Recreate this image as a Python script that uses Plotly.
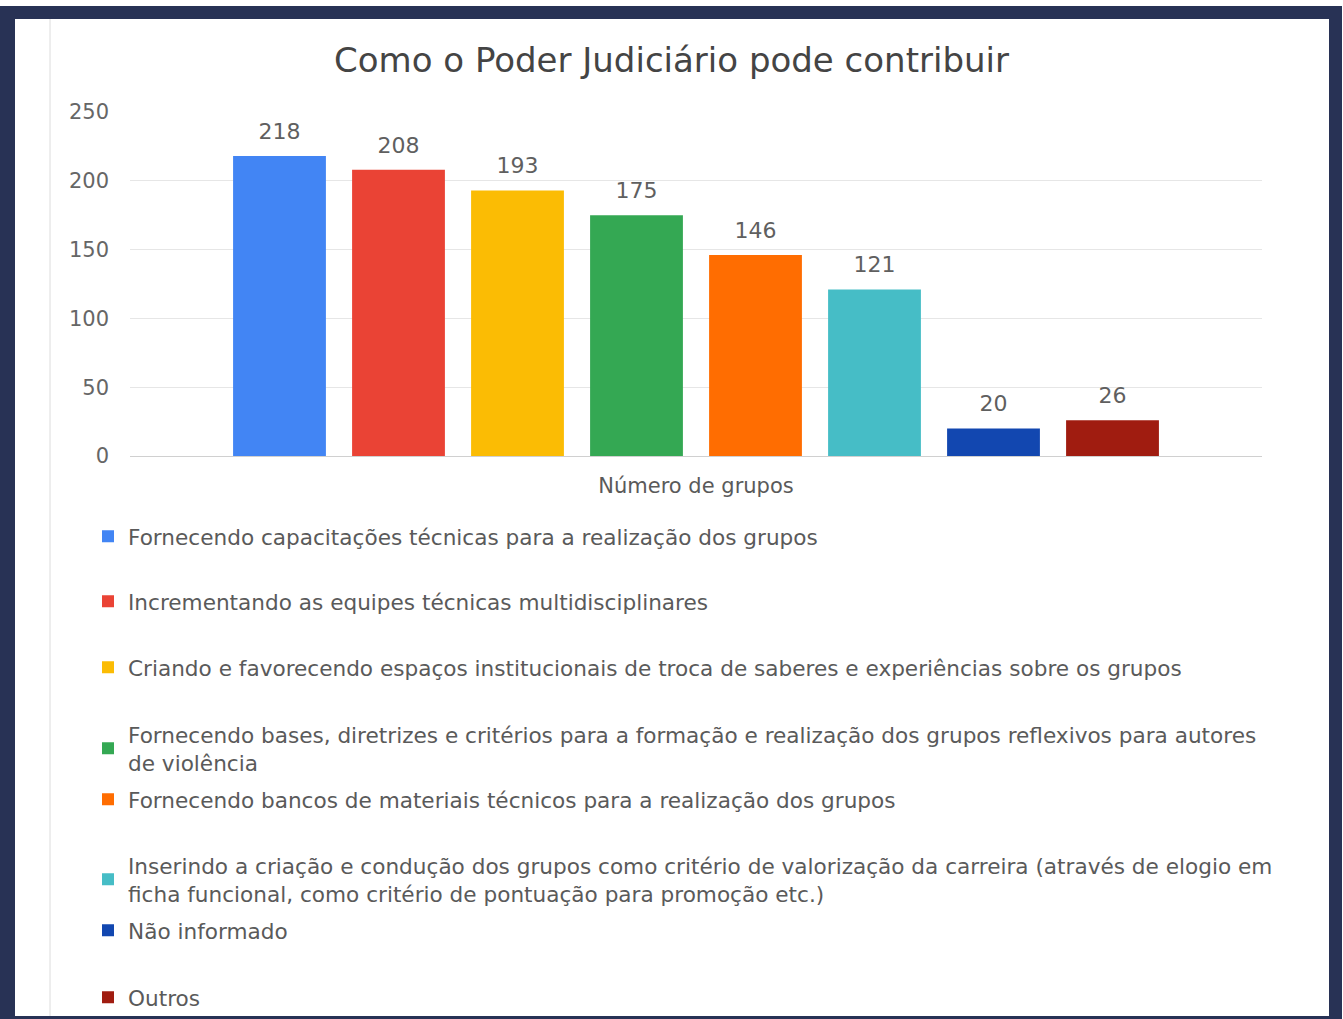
import plotly.graph_objects as go

# ---- data ----
category = ["Número de grupos"]
series_names = [
    "Fornecendo capacitações técnicas para a realização dos grupos",
    "Incrementando as equipes técnicas multidisciplinares",
    "Criando e favorecendo espaços institucionais de troca de saberes e experiências sobre os grupos",
    "Fornecendo bases, diretrizes e critérios para a formação e realização dos grupos reflexivos para autores<br>de violência",
    "Fornecendo bancos de materiais técnicos para a realização dos grupos",
    "Inserindo a criação e condução dos grupos como critério de valorização da carreira (através de elogio em<br>ficha funcional, como critério de pontuação para promoção etc.)",
    "Não informado",
    "Outros",
]
series_values = [218, 208, 193, 175, 146, 121, 20, 26]
series_colors = ["#4285F4", "#EA4335", "#FBBC04", "#34A853", "#FF6D01", "#46BDC6", "#1247B0", "#A01C10"]
y_ticks = [0, 50, 100, 150, 200, 250]
title_text = "Como o Poder Judiciário pode contribuir"

# ---- layout geometry (pixels) ----
W, H = 1343, 1019
PL, PR, PT, PB = 130, 1262, 112, 456
FONT = "DejaVu Sans"
BARGAP = 0.159


def px_x(px):
    return (px - PL) / (PR - PL)


def px_y(py):
    return (PB - py) / (PB - PT)


legend_text_y = [536, 601, 667, 734, 799, 865, 930, 997]

fig = go.Figure()
for i, (name, val, col) in enumerate(zip(series_names, series_values, series_colors)):
    lid = "legend" if i == 0 else f"legend{i + 1}"
    fig.add_trace(go.Bar(
        x=category, y=[val], name=name, marker_color=col, marker_line_width=0,
        offsetgroup=str(i), legend=lid, hoverinfo="skip",
    ))
# value labels, grouped exactly like the bars
for i, val in enumerate(series_values):
    fig.add_trace(go.Scatter(
        x=category, y=[val], mode="markers+text", text=[str(val)],
        textposition="top center", offsetgroup=str(i), showlegend=False,
        marker=dict(size=17, opacity=0), cliponaxis=False, hoverinfo="skip",
        textfont=dict(family=FONT, size=22, color="#5f5f5f"),
    ))

legends = {}
for i, ty in enumerate(legend_text_y):
    key = "legend" if i == 0 else f"legend{i + 1}"
    legends[key] = dict(
        x=px_x(88), xanchor="left", y=px_y(ty - 20.3), yanchor="top",
        bgcolor="rgba(0,0,0,0)", borderwidth=0,
        font=dict(family=FONT, size=21.6, color="#5a5a5a"),
    )

fig.update_layout(
    width=W, height=H,
    margin=dict(l=PL, r=W - PR, t=PT, b=H - PB, autoexpand=False),
    paper_bgcolor="white", plot_bgcolor="white",
    barmode="group", bargap=BARGAP, bargroupgap=0.22,
    scattermode="group", scattergap=BARGAP,
    showlegend=True,
    title=dict(text=title_text, x=0.5, xanchor="center", xref="container",
               y=1 - 60 / H, yanchor="middle", yref="container",
               font=dict(family=FONT, size=34, color="#444444")),
    xaxis=dict(title=dict(text="Número de grupos", standoff=22,
                          font=dict(family=FONT, size=21, color="#5a5a5a")),
               showticklabels=False, showgrid=False, zeroline=False, showline=False, ticks=""),
    yaxis=dict(range=[0, 250], tickvals=y_ticks, showgrid=True, gridcolor="#e6e6e6", gridwidth=1,
               zeroline=True, zerolinecolor="#d0d0d0", zerolinewidth=1, showline=False,
               tickfont=dict(family=FONT, size=21, color="#666666"), ticklabelstandoff=20),
    **legends,
)

# frame (navy border) and white inner panel
fig.add_shape(type="rect", xref="paper", yref="paper", layer="below",
              x0=px_x(0), x1=px_x(1342), y0=px_y(1019), y1=px_y(6),
              fillcolor="#283255", line_width=0)
fig.add_shape(type="rect", xref="paper", yref="paper", layer="below",
              x0=px_x(15), x1=px_x(1329), y0=px_y(1016), y1=px_y(19),
              fillcolor="white", line_width=0)
fig.add_shape(type="line", xref="paper", yref="paper", layer="below",
              x0=px_x(50), x1=px_x(50), y0=px_y(1016), y1=px_y(19),
              line=dict(color="#dcdcdc", width=1))

fig.write_html("out.html", config={"displayModeBar": False},
               post_script="document.body.style.margin='0';document.body.style.overflow='hidden';")
